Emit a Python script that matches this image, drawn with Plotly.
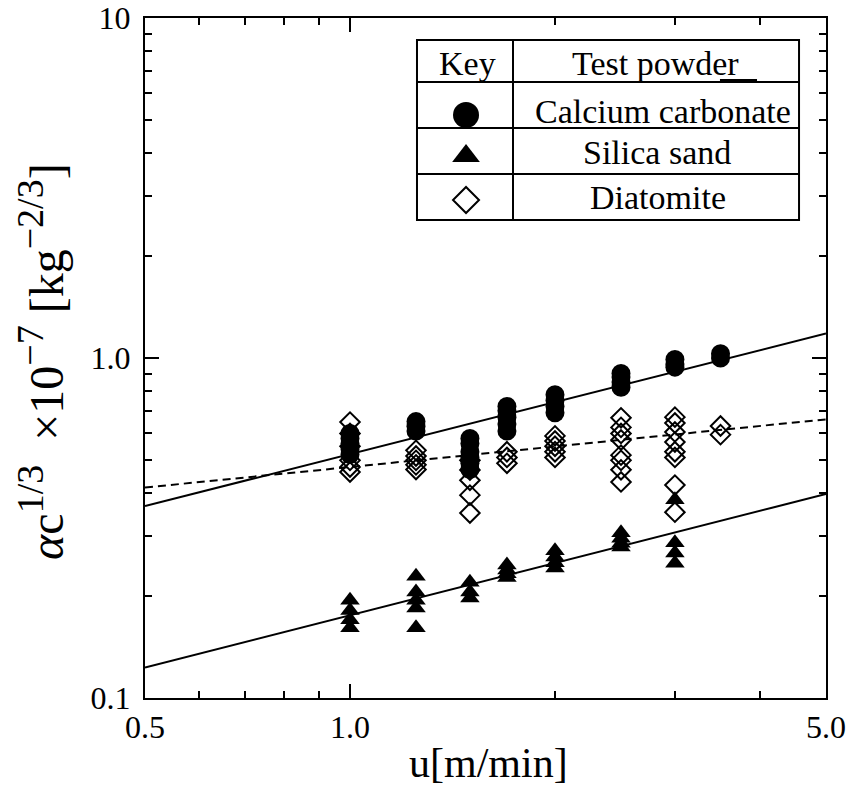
import plotly.graph_objects as go

# ---------------- data ----------------
cc_x = [1.0]*5 + [1.25]*3 + [1.5]*6 + [1.7]*5 + [2.0]*4 + [2.5]*4 + [3.0]*3 + [3.5]*2
cc_y = [0.52, 0.54, 0.56, 0.58, 0.60,
        0.61, 0.63, 0.65,
        0.47, 0.49, 0.51, 0.53, 0.56, 0.58,
        0.61, 0.64, 0.67, 0.70, 0.72,
        0.69, 0.72, 0.75, 0.78,
        0.82, 0.85, 0.88, 0.90,
        0.94, 0.96, 0.99,
        1.00, 1.03]

ss_x = [1.0]*4 + [1.25]*5 + [1.5]*3 + [1.7]*4 + [2.0]*4 + [2.5]*4 + [3.0]*4
ss_y = [0.161, 0.170, 0.181, 0.194,
        0.161, 0.184, 0.194, 0.205, 0.228,
        0.197, 0.205, 0.219,
        0.226, 0.232, 0.238, 0.246,
        0.241, 0.250, 0.260, 0.271,
        0.278, 0.285, 0.295, 0.306,
        0.249, 0.267, 0.286, 0.383]

di_x = [1.0]*6 + [1.25]*5 + [1.5]*5 + [1.7]*3 + [2.0]*5 + [2.5]*8 + [3.0]*8 + [3.5]*2
di_y = [0.462, 0.478, 0.50, 0.55, 0.60, 0.648,
        0.47, 0.485, 0.50, 0.515, 0.535,
        0.35, 0.395, 0.437, 0.468, 0.50,
        0.49, 0.51, 0.53,
        0.51, 0.53, 0.55, 0.57, 0.59,
        0.432, 0.469, 0.50, 0.518, 0.574, 0.60, 0.625, 0.667,
        0.352, 0.423, 0.51, 0.53, 0.566, 0.606, 0.644, 0.67,
        0.595, 0.631]

fit_x = [0.5, 5.0]
fit_cc = [0.367, 1.18]
fit_ss = [0.123, 0.398]
fit_di = [0.416, 0.66]

x_major = [0.5, 1.0, 5.0]
x_major_text = ["0.5", "1.0", "5.0"]
x_minor = [0.6, 0.7, 0.8, 0.9, 2, 3, 4]
y_major = [0.1, 1.0, 10]
y_major_text = ["0.1", "1.0", "10"]
y_minor = [0.2, 0.3, 0.4, 0.5, 0.6, 0.7, 0.8, 0.9, 2, 3, 4, 5, 6, 7, 8, 9]

legend_names = ["Calcium carbonate", "Silica sand", "Diatomite"]

FONT = "Liberation Serif, Times New Roman, serif"

fig = go.Figure()

# fitted lines
fig.add_trace(go.Scatter(x=fit_x, y=fit_cc, mode="lines", line=dict(color="black", width=2), showlegend=False))
fig.add_trace(go.Scatter(x=fit_x, y=fit_ss, mode="lines", line=dict(color="black", width=2), showlegend=False))
fig.add_trace(go.Scatter(x=fit_x, y=fit_di, mode="lines", line=dict(color="black", width=2, dash="8px,5px"), showlegend=False))

# data markers
fig.add_trace(go.Scatter(x=di_x, y=di_y, mode="markers",
                         marker=dict(symbol="diamond-open", size=15, color="black", line=dict(width=2, color="black")),
                         showlegend=False))
fig.add_trace(go.Scatter(x=cc_x, y=cc_y, mode="markers",
                         marker=dict(symbol="circle", size=19, color="black"), showlegend=False))
fig.add_trace(go.Scatter(x=ss_x, y=ss_y, mode="markers",
                         marker=dict(symbol="triangle-up", size=17, color="black"), showlegend=False))

# key table markers (overlay axes in 0..1 = plot area)
fig.add_trace(go.Scatter(x=[0.4714], y=[0.8574], mode="markers", xaxis="x2", yaxis="y2",
                         marker=dict(symbol="circle", size=26, color="black"), showlegend=False))
fig.add_trace(go.Scatter(x=[0.4714], y=[0.797], mode="markers", xaxis="x2", yaxis="y2",
                         marker=dict(symbol="triangle-up", size=24, color="black"), showlegend=False))
fig.add_trace(go.Scatter(x=[0.4714], y=[0.7324], mode="markers", xaxis="x2", yaxis="y2",
                         marker=dict(symbol="diamond-open", size=20, color="black", line=dict(width=2, color="black")),
                         showlegend=False))

# key table frame
shapes = []
lw = dict(color="black", width=2)
shapes.append(dict(type="rect", xref="paper", yref="paper", x0=0.3994, x1=0.9604, y0=0.7029, y1=0.9676,
                   line=lw, fillcolor="rgba(0,0,0,0)"))
shapes.append(dict(type="line", xref="paper", yref="paper", x0=0.5404, x1=0.5404, y0=0.7029, y1=0.9676, line=lw))
for yy in [0.9059, 0.8382, 0.7706]:
    shapes.append(dict(type="line", xref="paper", yref="paper", x0=0.3994, x1=0.9604, y0=yy, y1=yy, line=lw))
shapes.append(dict(type="line", xref="paper", yref="paper", x0=0.8443, x1=0.8987, y0=0.9088, y1=0.9088,
                   line=dict(color="black", width=2)))

annots = []
tf = dict(family=FONT, size=34, color="black")
annots.append(dict(text="Key", x=0.4743, y=0.9338, xref="paper", yref="paper", showarrow=False, font=tf,
                   xanchor="center", yanchor="middle"))
annots.append(dict(text="Test powder", x=0.7489, y=0.9338, xref="paper", yref="paper", showarrow=False, font=tf,
                   xanchor="center", yanchor="middle"))
for name, yy, xx in zip(legend_names, [0.8618, 0.8029, 0.7353], [0.7606, 0.7518, 0.7533]):
    annots.append(dict(text=name, x=xx, y=yy, xref="paper", yref="paper", showarrow=False, font=tf,
                       xanchor="center", yanchor="middle"))

# axis titles
annots.append(dict(text="u[m/min]", x=0.505, y=-0.095, xref="paper", yref="paper", showarrow=False,
                   font=dict(family=FONT, size=42, color="black"), xanchor="center", yanchor="middle"))
SUP = '<sup><span style="font-size:38px">%s</span></sup>'
ytitle = ("<i>α</i>c" + SUP % "1/3" + "  ×10" + SUP % "−7" + " [kg" + SUP % "−2/3" + "]")
annots.append(dict(text=ytitle,
                   x=-0.152, y=0.495, xref="paper", yref="paper", showarrow=False, textangle=-90,
                   font=dict(family=FONT, size=48, color="black"), xanchor="center", yanchor="middle"))

axis_common = dict(showline=True, linecolor="black", linewidth=2, mirror="ticks", showgrid=False, zeroline=False,
                   ticks="inside", ticklen=14, tickwidth=2, tickcolor="black", automargin=False,
                   tickfont=dict(family=FONT, size=32, color="black"))

fig.update_layout(
    width=853, height=785, autosize=False,
    margin=dict(l=145, r=27, t=18, b=87),
    paper_bgcolor="white", plot_bgcolor="white",
    showlegend=False,
    xaxis=dict(type="log", range=[-0.30103, 0.69897], tickmode="array", tickvals=x_major, ticktext=x_major_text,
               minor=dict(tickmode="array", tickvals=x_minor, ticks="inside", ticklen=7, tickwidth=2, tickcolor="black"),
               **axis_common),
    yaxis=dict(type="log", range=[-1, 1], tickmode="array", tickvals=y_major, ticktext=y_major_text,
               ticklabelstandoff=6,
               minor=dict(tickmode="array", tickvals=y_minor, ticks="inside", ticklen=7, tickwidth=2, tickcolor="black"),
               **axis_common),
    xaxis2=dict(overlaying="x", range=[0, 1], visible=False, fixedrange=True),
    yaxis2=dict(overlaying="y", range=[0, 1], visible=False, fixedrange=True),
    shapes=shapes,
    annotations=annots,
)

fig.write_html("out.html", config={"displayModeBar": False},
               post_script="document.body.style.margin='0px';document.body.style.overflow='hidden';")
